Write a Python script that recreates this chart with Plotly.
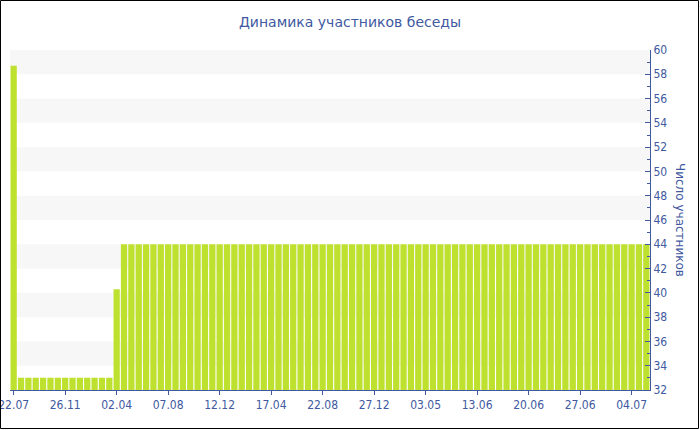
import plotly.graph_objects as go

# ---- data ----
title_text = "Динамика участников беседы"
y_title = "Число участников"

tick_labels = ["22.07", "26.11", "02.04", "07.08", "12.12", "17.04", "22.08",
               "27.12", "03.05", "13.06", "20.06", "27.06", "04.07"]
tick_every = 7

participants = [
    58.7,
    33, 33, 33, 33, 33, 33, 33, 33, 33, 33, 33, 33, 33,
    40.3,
    44, 44, 44, 44, 44, 44, 44, 44, 44, 44, 44, 44,
    44, 44, 44, 44, 44, 44, 44, 44, 44, 44, 44, 44,
    44, 44, 44, 44, 44, 44, 44, 44, 44, 44, 44, 44,
    44, 44, 44, 44, 44, 44, 44, 44, 44, 44, 44, 44,
    44, 44, 44, 44, 44, 44, 44, 44, 44, 44, 44, 44,
    44, 44, 44, 44, 44, 44, 44, 44, 44, 44, 44, 44,
]

y_min, y_max, y_step = 32, 60, 2

# ---- styling ----
W, H = 700, 430
ML, MR, MT, MB = 10, 50, 50, 40
BLUE = "#4159a0"
BAR = "rgb(190,224,46)"
BAND = "#f7f7f7"
FONT = "DejaVu Sans"
TICK_FONT = "DejaVu Sans Condensed, DejaVu Sans"

positions = list(range(len(participants)))
tickvals = [i * tick_every for i in range(len(tick_labels))]

fig = go.Figure(go.Bar(x=positions, y=participants, marker_color=BAR,
                       marker_line_width=0, hoverinfo="y"))

shapes = []
v = y_max
while v - y_step >= y_min:
    shapes.append(dict(type="rect", xref="paper", yref="y", x0=0, x1=1,
                       y0=v - y_step, y1=v, fillcolor=BAND, line_width=0,
                       layer="below"))
    v -= 2 * y_step

# outer border of the whole figure
pw, ph = W - ML - MR, H - MT - MB
shapes.append(dict(type="rect", xref="paper", yref="paper",
                   x0=-(ML - 0.5) / pw, x1=1 + (MR - 1.5) / pw,
                   y0=-(MB - 1.5) / ph, y1=1 + (MT - 0.5) / ph,
                   line=dict(color="black", width=1), fillcolor="rgba(0,0,0,0)",
                   layer="above"))

fig.update_layout(
    width=W, height=H,
    margin=dict(l=ML, r=MR, t=MT, b=MB, autoexpand=False),
    paper_bgcolor="white", plot_bgcolor="white",
    font=dict(family=FONT, size=11, color=BLUE),
    title=dict(text=title_text, x=0.5, xref="container", xanchor="center",
               y=1 - 22 / H, yanchor="middle",
               font=dict(family=FONT, size=14, color=BLUE)),
    bargap=0.15,
    showlegend=False,
    shapes=shapes,
    xaxis=dict(range=[-0.5, len(participants) - 0.5], tickmode="array",
               tickvals=tickvals, ticktext=tick_labels, ticks="outside",
               ticklen=4, tickcolor=BLUE, showline=True, linecolor=BLUE,
               linewidth=1, showgrid=False, zeroline=False, automargin=False,
               ticklabeloverflow="allow",
               tickfont=dict(family=TICK_FONT, size=12, color=BLUE)),
    yaxis=dict(side="right", range=[y_min, y_max], dtick=y_step, tick0=y_min,
               ticks="inside", ticklen=5, tickcolor=BLUE, showline=True,
               linecolor=BLUE, linewidth=1, showgrid=False, zeroline=False,
               automargin=False, ticklabeloverflow="allow",
               tickfont=dict(family=TICK_FONT, size=12, color=BLUE),
               minor=dict(dtick=1, ticks="inside", ticklen=3, tickcolor=BLUE)),
    annotations=[dict(text=y_title, textangle=90, xref="paper", yref="paper",
                      x=1 + (680 - (W - MR)) / pw, y=0.5, showarrow=False,
                      xanchor="center", yanchor="middle",
                      font=dict(family=FONT, size=12, color=BLUE))],
)

fig.write_html("out.html", config={"displayModeBar": False},
               post_script="document.body.style.margin='0';")
